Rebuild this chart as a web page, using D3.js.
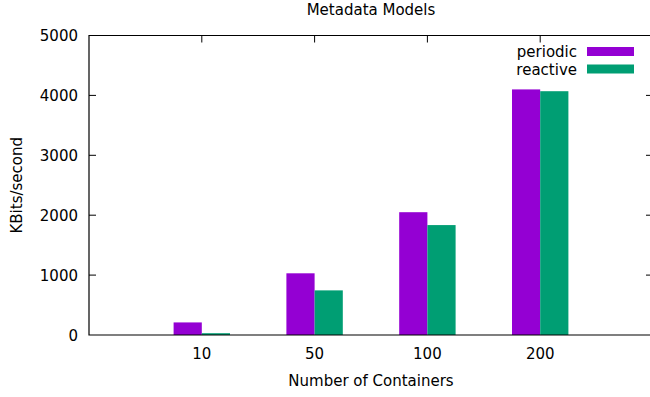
<!DOCTYPE html>
<html>
<head>
<meta charset="utf-8">
<script src="https://cdn.jsdelivr.net/npm/d3@7"></script>
<style>
  body { margin: 0; background: #fff; }
  text { font-family: "DejaVu Sans", sans-serif; fill: #000; }
</style>
</head>
<body>
<div id="chart"></div>
<script>
const categories = ["10", "50", "100", "200"];
const periodic = [210, 1030, 2050, 4100];
const reactive = [30, 745, 1835, 4070];
const seriesNames = ["periodic", "reactive"];
const colors = ["#9400d3", "#009e73"];
const yTicks = [0, 1000, 2000, 3000, 4000, 5000];

var width = 650,
    height = 397;

var margin = {left: 89, right: 653, top: 35.5, bottom: 335};

var svg = d3.select("#chart").append("svg")
    .attr("width", width)
    .attr("height", height);

// categories sit at 0..3, gnuplot style xrange [-1:4]
var x = d3.scaleLinear().domain([-1, 4]).range([margin.left, margin.right]);
var y = d3.scaleLinear().domain([0, 5000]).range([margin.bottom, margin.top]);

const barW = 0.25;
const series = [periodic, reactive];

series.forEach((vals, s) => {
    svg.append("g")
      .selectAll("rect")
      .data(vals)
      .join("rect")
        .attr("x", (d, i) => x(i - barW + s * barW))
        .attr("width", x(barW) - x(0))
        .attr("y", d => y(d))
        .attr("height", d => y(0) - y(d))
        .attr("fill", colors[s]);
});

// border
svg.append("path")
    .attr("d", `M${margin.right},${margin.top}H${margin.left}V${margin.bottom}H${margin.right}`)
    .attr("fill", "none")
    .attr("stroke", "#000")
    .attr("stroke-width", 1.2);

// y axis ticks both sides
var tickLen = 7;
svg.append("g")
  .selectAll("line")
  .data(yTicks.slice(1, -1))
  .join("line")
    .attr("x1", margin.left).attr("x2", margin.left + tickLen)
    .attr("y1", d => y(d)).attr("y2", d => y(d))
    .attr("stroke", "#000");
svg.append("g")
  .selectAll("line")
  .data(yTicks.slice(1, -1))
  .join("line")
    .attr("x1", margin.right - tickLen).attr("x2", margin.right)
    .attr("y1", d => y(d)).attr("y2", d => y(d))
    .attr("stroke", "#000");
svg.append("g")
  .selectAll("text")
  .data(yTicks)
  .join("text")
    .attr("x", 78)
    .attr("y", d => y(d) + 5.5)
    .attr("text-anchor", "end")
    .style("font-size", "15px")
    .text(d => d);

// x ticks top and bottom
svg.append("g")
  .selectAll("line")
  .data(categories)
  .join("line")
    .attr("x1", (d, i) => x(i)).attr("x2", (d, i) => x(i))
    .attr("y1", margin.top).attr("y2", margin.top + tickLen)
    .attr("stroke", "#000");
svg.append("g")
  .selectAll("text")
  .data(categories)
  .join("text")
    .attr("x", (d, i) => x(i))
    .attr("y", 359)
    .attr("text-anchor", "middle")
    .style("font-size", "15px")
    .text(d => d);

// titles
svg.append("text")
    .attr("x", (margin.left + margin.right) / 2)
    .attr("y", 15)
    .attr("text-anchor", "middle")
    .style("font-size", "15px")
    .text("Metadata Models");

svg.append("text")
    .attr("x", (margin.left + margin.right) / 2)
    .attr("y", 386)
    .attr("text-anchor", "middle")
    .style("font-size", "15px")
    .text("Number of Containers");

svg.append("text")
    .attr("transform", `translate(22,${(margin.top + margin.bottom) / 2}) rotate(-90)`)
    .attr("text-anchor", "middle")
    .style("font-size", "15px")
    .text("KBits/second");

// legend
var legend = svg.append("g")
  .selectAll("g")
  .data(seriesNames)
  .join("g")
    .attr("transform", (d, i) => `translate(0,${51.5 + i * 17.5})`);
legend.append("text")
    .attr("x", 577)
    .attr("y", 5.5)
    .attr("text-anchor", "end")
    .style("font-size", "15px")
    .text(d => d);
legend.append("rect")
    .attr("x", 587)
    .attr("y", -4.5)
    .attr("width", 47)
    .attr("height", 9)
    .attr("fill", (d, i) => colors[i]);
</script>
</body>
</html>
